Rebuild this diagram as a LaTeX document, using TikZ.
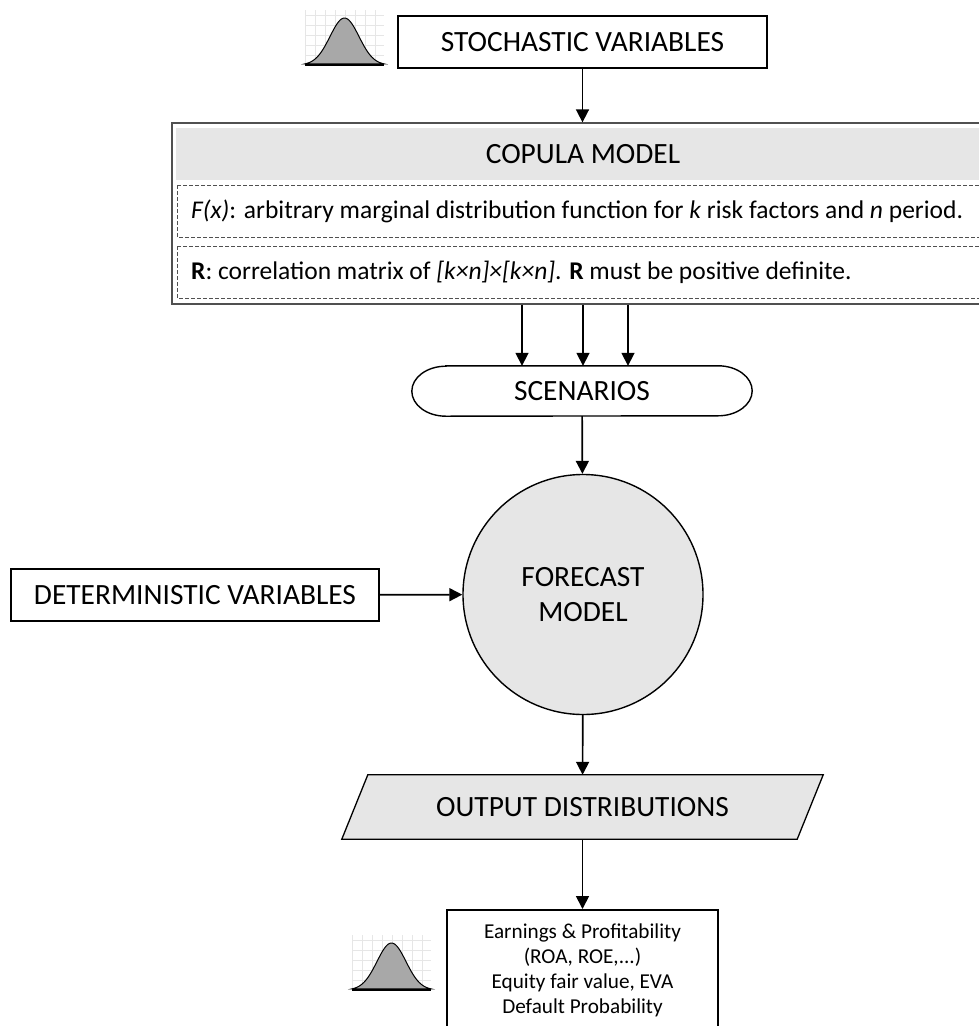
\documentclass[tikz,border=0pt]{standalone}
\usepackage{fontspec}
\setmainfont{Carlito}
\usetikzlibrary{arrows.meta}
\definecolor{boxgray}{HTML}{E6E6E6}
\definecolor{bellgray}{HTML}{A8A8A8}
\definecolor{gridgray}{HTML}{E6E6E6}
\definecolor{framegray}{HTML}{505050}
\newcommand{\biglabel}{\fontsize{29.4}{35}\selectfont}
\newcommand{\copulalabel}{\fontsize{25.5}{30}\selectfont}
\newcommand{\resultlabel}{\fontsize{21.2}{25}\selectfont}
\tikzset{
  flow arrow/.style={-{Triangle[width=13pt,length=13pt]}, line width=1.7pt},
  var box/.style={draw, line width=1.8pt, minimum height=52pt, inner sep=0pt, font=\biglabel},
  copula line/.style={anchor=west, inner sep=0pt, font=\copulalabel},
  dash box/.style={draw=framegray, dashed, dash pattern=on 4pt off 2pt, line width=0.9pt},
  bell icon/.pic={
    \draw[gridgray, line width=0.7pt] (0,0) grid[step=10] (79,55);
    \filldraw[fill=bellgray, draw=black, line width=1pt]
      plot[domain=0:79, samples=60, smooth] (\x,{47*exp(-((\x-39.5)/14.5)*((\x-39.5)/14.5)/2)}) -- cycle;
    \draw[line width=1.3pt] (0,0) -- (79,0);
  },
}

\begin{document}
\begin{tikzpicture}[x=1pt,y=1pt]
    \useasboundingbox (0,0) rectangle (979,-1026);
    \clip (0,0) rectangle (979,-1026);

    % Inputs
    \node[var box, minimum width=369pt] (stoch) at (582.5,-42) {STOCHASTIC VARIABLES};
    \pic at (305,-65) {bell icon};
    \node[var box, minimum width=368pt] (det) at (195,-595) {DETERMINISTIC VARIABLES};

    % Copula model
    \node[draw=framegray, line width=1.3pt, minimum width=822pt, minimum height=181pt, inner sep=0pt] (copula) at (583,-213.5) {};
    \fill[boxgray] (176,-128) rectangle (1000,-180);
    \node[font=\biglabel, inner sep=0pt] (cophead) at (583,-154) {COPULA MODEL};
    \draw[dash box] (177,-185) rectangle (1000,-237);
    \draw[dash box] (177,-246) rectangle (1000,-298);
    \node[copula line] (fx) at (191,-211) {\textit{F(x)}: arbitrary marginal distribution function for \textit{k} risk factors and \textit{n} period.};
    \node[copula line] (corr) at (191,-272) {\textbf{R}: correlation matrix of \textit{[k×n]×[k×n]}. \textbf{R} must be positive definite.};

    % Scenarios
    \node[minimum width=340pt, minimum height=50pt, inner sep=0pt, font=\biglabel] (scen) at (582,-391) {SCENARIOS};
    \draw[line width=1.4pt] ([xshift=34pt]scen.north west) -- ([xshift=-34pt]scen.north east)
        arc[start angle=90, end angle=-90, x radius=34pt, y radius=25pt]
        -- ([xshift=34pt]scen.south west)
        arc[start angle=270, end angle=90, x radius=34pt, y radius=25pt] -- cycle;

    % Forecast model
    \node[circle, draw, fill=boxgray, line width=1.4pt, minimum size=240pt, inner sep=0pt, align=center, font=\biglabel] (forecast) at (583,-594.5) {FORECAST\\MODEL};

    % Output
    \node[minimum width=455pt, minimum height=64pt, inner sep=0pt, font=\biglabel] (outd) at (582.5,-807) {};
    \filldraw[fill=boxgray, draw=black, line width=1.3pt] ([xshift=13pt]outd.north west) -- ([xshift=13pt]outd.north east)
        -- ([xshift=-13pt]outd.south east) -- ([xshift=-13pt]outd.south west) -- cycle;
    \node[font=\biglabel, inner sep=0pt] at (outd) {OUTPUT DISTRIBUTIONS};
    \node[draw, line width=1.6pt, anchor=north, minimum width=271pt, minimum height=122pt, align=center, font=\resultlabel] (res) at (582.5,-909)
        {Earnings \& Profitability\\(ROA, ROE,...)\\Equity fair value, EVA\\Default Probability};
    \pic at (352,-990) {bell icon};

    % Arrows
    \draw[flow arrow] (stoch.south) -- (stoch.south |- copula.north);
    \draw[flow arrow] ([xshift=-61pt]copula.south) -- ([xshift=-60pt]scen.north);
    \draw[flow arrow] (copula.south) -- (copula.south |- scen.north);
    \draw[flow arrow] ([xshift=45pt]copula.south) -- ([xshift=46pt]scen.north);
    \draw[flow arrow] (scen) -- (forecast);
    \draw[flow arrow] (det) -- (forecast);
    \draw[flow arrow] (forecast) -- (outd);
    \draw[flow arrow] (outd) -- (res);
\end{tikzpicture}
\end{document}
